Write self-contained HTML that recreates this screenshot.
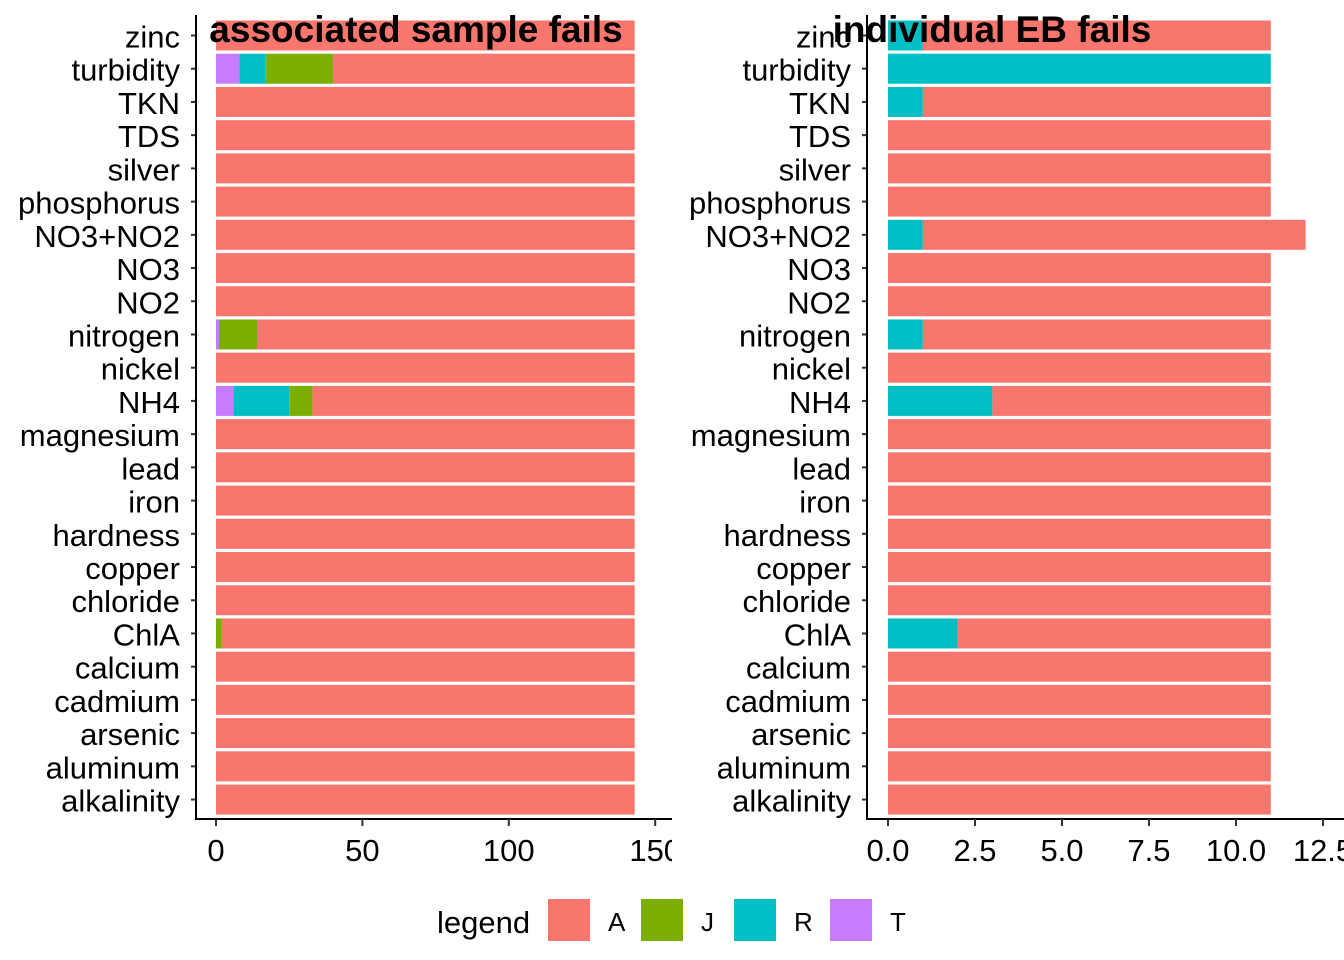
<!DOCTYPE html>
<html><head><meta charset="utf-8"><style>
html,body{margin:0;padding:0;background:#fff;}
svg{display:block;font-family:"Liberation Sans",sans-serif;}
</style></head><body>
<svg id="chart" width="1344" height="960"></svg>
<script>
const categories=["zinc","turbidity","TKN","TDS","silver","phosphorus","NO3+NO2","NO3","NO2","nitrogen","nickel","NH4","magnesium","lead","iron","hardness","copper","chloride","ChlA","calcium","cadmium","arsenic","aluminum","alkalinity"];
const leftT=[0,8,0,0,0,0,0,0,0,1,0,6,0,0,0,0,0,0,0,0,0,0,0,0];
const leftR=[0,9,0,0,0,0,0,0,0,0,0,19,0,0,0,0,0,0,0,0,0,0,0,0];
const leftJ=[0,23,0,0,0,0,0,0,0,13,0,8,0,0,0,0,0,0,2,0,0,0,0,0];
const leftA=[143,103,143,143,143,143,143,143,143,129,143,110,143,143,143,143,143,143,141,143,143,143,143,143];
const rightR=[1,11,1,0,0,0,1,0,0,1,0,3,0,0,0,0,0,0,2,0,0,0,0,0];
const rightA=[10,0,10,11,11,11,11,11,11,10,11,8,11,11,11,11,11,11,9,11,11,11,11,11];
const leftTicks=[0,50,100,150];
const rightTicks=["0.0","2.5","5.0","7.5","10.0","12.5"];
const colors={T:"#C77CFF",R:"#00BFC4",J:"#7CAE00",A:"#F8766D"};
const NS="http://www.w3.org/2000/svg";
const svg=document.getElementById('chart');
function mk(tag,attrs,parent){const e=document.createElementNS(NS,tag);for(const k in attrs)e.setAttribute(k,attrs[k]);(parent||svg).appendChild(e);return e;}
const step=33.22, y0=35.5;
function yc(i){return y0+i*step;}
const panels=[
 {name:"left",x0:216,scale:146.4/50,axisX:196,clipR:672,title:"associated sample fails",titleX:416,
  series:[["T",leftT],["R",leftR],["J",leftJ],["A",leftA]],ticks:leftTicks.map(Number),tickLabels:leftTicks.map(String)},
 {name:"right",x0:888,scale:87/2.5,axisX:867,clipR:1344,title:"individual EB fails",titleX:992,
  series:[["R",rightR],["A",rightA]],ticks:rightTicks.map(Number),tickLabels:rightTicks}
];
panels.forEach(p=>{
  const g=mk('g',{});
  
  
  categories.forEach((c,i)=>{
    let acc=0;
    p.series.forEach(([k,arr])=>{
      const v=arr[i]; if(v<=0)return;
      const r=mk('rect',{x:p.x0+acc*p.scale,y:yc(i)-15,width:v*p.scale,height:30,fill:colors[k]},g);
      
      
      acc+=v;
    });
    mk('line',{x1:p.axisX-5,x2:p.axisX,y1:yc(i),y2:yc(i),stroke:"#333","stroke-width":2},g);
    const t=mk('text',{x:p.axisX-16,y:yc(i)+12,"text-anchor":"end","font-size":31,fill:"#000"},g);
    t.textContent=c;
    
    
  });
  mk('line',{x1:p.axisX,x2:p.axisX,y1:15,y2:820,stroke:"#000","stroke-width":2},g);
  mk('line',{x1:p.axisX-1,x2:p.clipR,y1:819,y2:819,stroke:"#000","stroke-width":2},g);
  const cl=mk('clipPath',{id:'clip-'+p.name},g);
  mk('rect',{x:0,y:0,width:p.clipR,height:960},cl);
  p.ticks.forEach((v,j)=>{
    const x=p.x0+v*p.scale;
    mk('line',{x1:x,x2:x,y1:819,y2:826,stroke:"#333","stroke-width":2},g);
    const t=mk('text',{x:x,y:861,"text-anchor":"middle","font-size":31,fill:"#000","clip-path":"url(#clip-"+p.name+")"},g);
    t.textContent=p.tickLabels[j];
    
    
  });
  const tt=mk('text',{x:p.titleX,y:42,"text-anchor":"middle","font-size":37,"font-weight":"bold",fill:"#000"},g);
  tt.textContent=p.title;
  
  
});
const lg=mk('g',{});


const lt=mk('text',{x:437,y:933,"font-size":31,fill:"#000"},lg);
lt.textContent="legend";
const keys=["A","J","R","T"], bx=[548,641,734,830];
keys.forEach((k,i)=>{
  const r=mk('rect',{x:bx[i],y:899,width:42,height:42,fill:colors[k]},lg);
  
  
  const t=mk('text',{x:bx[i]+60,y:931,"font-size":26,fill:"#000"},lg);
  t.textContent=k;
  
  
});
</script>
</body></html>
